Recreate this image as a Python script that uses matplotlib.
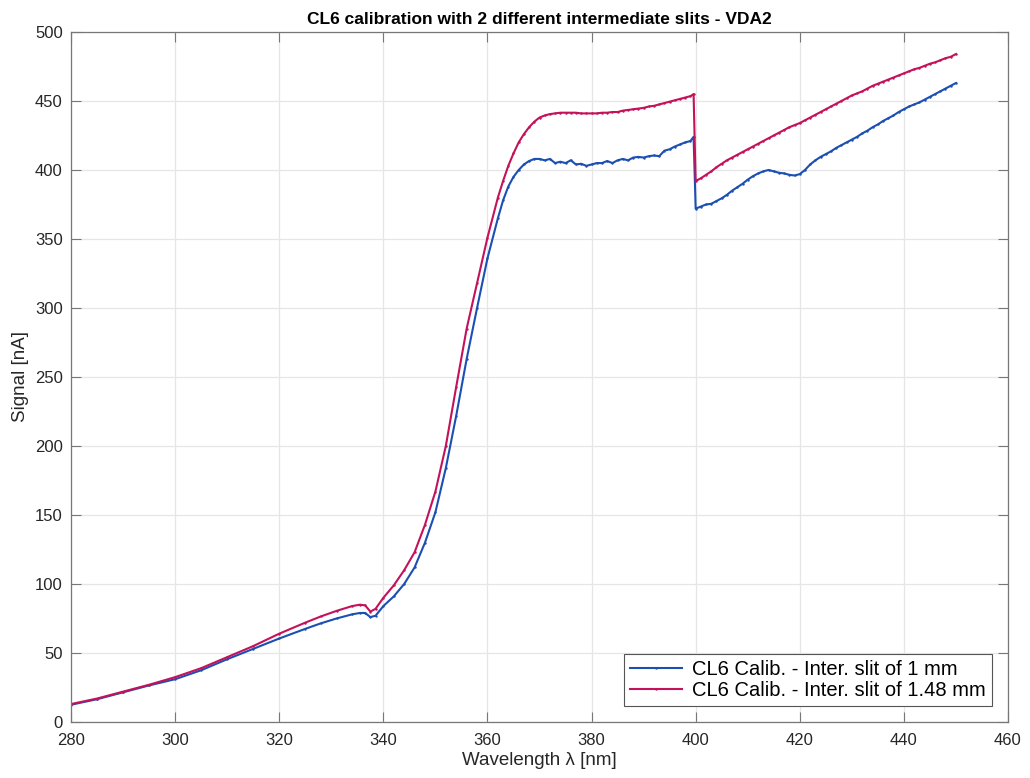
import matplotlib.pyplot as plt

# Wavelength axis (nm), shared by both series
wl = [280, 285, 290, 295, 300, 305, 310, 315, 320, 325, 328, 331, 334,
      335.5, 336.5, 337.5, 338.5, 340, 342, 344, 346, 348, 350, 352, 354,
      356, 358, 360, 362, 363, 364, 365, 366, 367, 368, 369, 370, 371, 372,
      373, 374, 375, 376, 377, 378, 379, 380, 381, 382, 383, 384, 385, 386,
      387, 388, 389, 390, 391, 392, 393, 394, 395, 396, 397, 398, 399, 399.6,
      400, 401, 402, 403, 404, 405, 406, 407, 408, 409, 410, 411, 412, 413,
      414, 415, 416, 417, 418, 419, 420, 421, 422, 423, 424, 425, 426, 427,
      428, 429, 430, 431, 432, 433, 434, 435, 436, 437, 438, 439, 440, 441,
      442, 443, 444, 445, 446, 447, 448, 449, 450]

# Inter. slit of 1 mm
sig_1mm = [12.5, 16.5, 21.5, 26.5, 31, 37.5, 45.5, 53, 60.5, 67.5, 71.5, 75, 78,
           79, 79, 76, 77, 84, 91, 100, 112, 130, 152, 184, 222,
           263, 300, 336, 365, 378, 388, 395, 400, 404, 406.5, 408, 408, 407, 408,
           405, 406, 405, 407, 404, 404.5, 403, 404, 405, 405, 406.5, 405, 407, 408,
           407, 409, 409.5, 409, 410, 410.5, 410, 414, 415, 417, 418.5, 420, 421, 424,
           372, 373.5, 375, 375.5, 377.5, 379.5, 382, 385, 387.5, 390, 393, 395.5, 397.5, 399,
           400, 399, 398, 397.5, 396.5, 396, 397, 400, 404, 407, 409.5, 411.5, 413.5, 416,
           418, 420, 422, 424, 426.5, 428.5, 431, 433, 435.5, 437.5, 439.5, 442, 444, 446,
           447.5, 449, 451, 453, 455, 457, 459, 461, 463]

# Inter. slit of 1.48 mm
sig_148mm = [13, 17, 22, 27, 32.5, 39, 47, 55, 64, 72, 76.5, 80.5, 84,
             85, 84.5, 80, 82, 90, 99, 110, 123, 143, 167, 200, 243,
             285, 318, 351, 380, 392, 403, 412, 420, 426, 431, 435, 438, 439.5, 440.5,
             441, 441.5, 441.5, 441.5, 441.5, 441, 441, 441, 441, 441.5, 441.5, 442, 442, 443,
             443.5, 444, 444.5, 445, 446, 446.5, 447.5, 448.5, 449.5, 450.5, 451.5, 452.5, 453.5, 455,
             392, 394, 396.5, 399, 402, 404.5, 407, 409, 411, 413, 415, 417, 419, 421,
             423, 425, 427, 429, 431, 432.5, 434, 436, 438, 440, 442, 444, 446, 448,
             450, 452, 454, 455.5, 457, 459, 461, 462.5, 464, 465.5, 467, 468.5, 470, 471.5,
             473, 474, 475.5, 477, 478, 479.5, 481, 482, 484]

plt.rcParams['font.family'] = ['Liberation Sans', 'DejaVu Sans']

fig = plt.figure(figsize=(10.3, 7.78), dpi=100)
ax = fig.add_axes([0.069, 0.072, 0.9096, 0.8869])

ax.plot(wl, sig_1mm, color='#1c4fb2', lw=1.5, marker='.', markersize=1.5,
        label='CL6 Calib. - Inter. slit of 1 mm')
ax.plot(wl, sig_148mm, color='#c3125a', lw=1.5, marker='.', markersize=1.5,
        label='CL6 Calib. - Inter. slit of 1.48 mm')

ax.set_xlim(280, 460)
ax.set_ylim(0, 500)
ax.set_xticks(range(280, 461, 20))
ax.set_yticks(range(0, 501, 50))
ax.grid(True, color='#e6e6e6', lw=0.9)
ax.set_axisbelow(True)
ax.tick_params(direction='in', top=True, right=True, labelsize=12,
               color='#777777', labelcolor='#262626', length=7)
ax.tick_params(axis='x', pad=8)
ax.tick_params(axis='y', pad=6)
for s in ax.spines.values():
    s.set_color('#777777')
    s.set_linewidth(0.9)

ax.set_xlabel('Wavelength λ [nm]', fontsize=13.5, color='#262626', labelpad=3)
ax.set_ylabel('Signal [nA]', fontsize=13.5, color='#262626', labelpad=4)
ax.set_title('CL6 calibration with 2 different intermediate slits - VDA2',
             fontsize=12.5, fontweight='bold', pad=6)

leg = ax.legend(loc='lower right', fontsize=14.5, fancybox=False,
                edgecolor='#555555', framealpha=1, borderaxespad=0.8,
                handlelength=2.6, handletextpad=0.5, borderpad=0.3,
                labelspacing=0.1)
leg.get_frame().set_linewidth(0.8)

fig.savefig('out.png', dpi=100)
